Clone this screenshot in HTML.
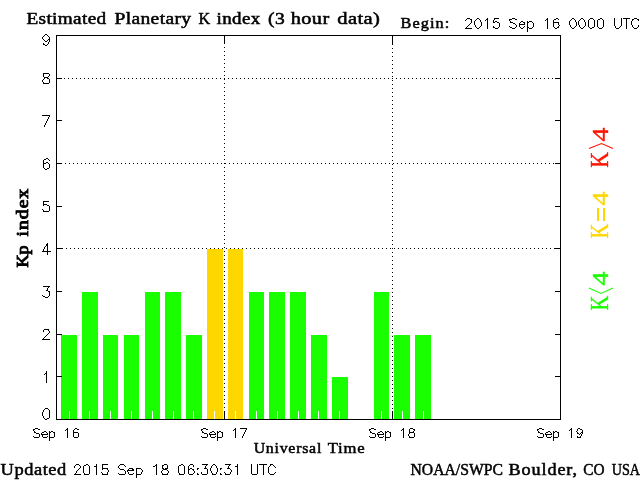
<!DOCTYPE html>
<html><head><meta charset="utf-8"><style>
html,body{margin:0;padding:0;background:#fff;width:640px;height:480px;overflow:hidden}
svg{display:block}
.sans{font-family:"Liberation Sans",sans-serif}
.serif{font-family:"Liberation Serif",serif}
</style></head><body>
<svg width="640" height="480" viewBox="0 0 640 480">
<rect x="0" y="0" width="640" height="480" fill="#fff"/>
<g shape-rendering="crispEdges">
<rect x="61" y="335" width="16" height="84" fill="#1aff00"/>
<rect x="69" y="411" width="1" height="8" fill="#fff"/>
<rect x="82" y="292" width="16" height="127" fill="#1aff00"/>
<rect x="89" y="411" width="1" height="8" fill="#fff"/>
<rect x="103" y="335" width="15" height="84" fill="#1aff00"/>
<rect x="110" y="411" width="1" height="8" fill="#fff"/>
<rect x="124" y="335" width="15" height="84" fill="#1aff00"/>
<rect x="131" y="411" width="1" height="8" fill="#fff"/>
<rect x="145" y="292" width="15" height="127" fill="#1aff00"/>
<rect x="152" y="411" width="1" height="8" fill="#fff"/>
<rect x="165" y="292" width="16" height="127" fill="#1aff00"/>
<rect x="173" y="411" width="1" height="8" fill="#fff"/>
<rect x="186" y="335" width="16" height="84" fill="#1aff00"/>
<rect x="193" y="411" width="1" height="8" fill="#fff"/>
<rect x="207" y="249" width="16" height="170" fill="#ffd700"/>
<rect x="214" y="411" width="1" height="8" fill="#fff"/>
<rect x="228" y="249" width="15" height="170" fill="#ffd700"/>
<rect x="235" y="411" width="1" height="8" fill="#fff"/>
<rect x="249" y="292" width="15" height="127" fill="#1aff00"/>
<rect x="256" y="411" width="1" height="8" fill="#fff"/>
<rect x="269" y="292" width="16" height="127" fill="#1aff00"/>
<rect x="277" y="411" width="1" height="8" fill="#fff"/>
<rect x="290" y="292" width="16" height="127" fill="#1aff00"/>
<rect x="298" y="411" width="1" height="8" fill="#fff"/>
<rect x="311" y="335" width="16" height="84" fill="#1aff00"/>
<rect x="318" y="411" width="1" height="8" fill="#fff"/>
<rect x="332" y="377" width="16" height="42" fill="#1aff00"/>
<rect x="339" y="411" width="1" height="8" fill="#fff"/>
<rect x="374" y="292" width="15" height="127" fill="#1aff00"/>
<rect x="381" y="411" width="1" height="8" fill="#fff"/>
<rect x="394" y="335" width="16" height="84" fill="#1aff00"/>
<rect x="402" y="411" width="1" height="8" fill="#fff"/>
<rect x="415" y="335" width="16" height="84" fill="#1aff00"/>
<rect x="423" y="411" width="1" height="8" fill="#fff"/>
<rect x="56" y="35" width="505" height="1" fill="#000"/>
<rect x="56" y="419" width="505" height="1" fill="#000"/>
<rect x="56" y="35" width="1" height="385" fill="#000"/>
<rect x="560" y="35" width="1" height="385" fill="#000"/>
<rect x="56" y="376" width="6" height="1" fill="#000"/>
<rect x="555" y="376" width="6" height="1" fill="#000"/>
<rect x="56" y="334" width="6" height="1" fill="#000"/>
<rect x="555" y="334" width="6" height="1" fill="#000"/>
<rect x="56" y="291" width="6" height="1" fill="#000"/>
<rect x="555" y="291" width="6" height="1" fill="#000"/>
<rect x="56" y="248" width="7" height="1" fill="#000"/>
<rect x="554" y="248" width="7" height="1" fill="#000"/>
<rect x="56" y="206" width="6" height="1" fill="#000"/>
<rect x="555" y="206" width="6" height="1" fill="#000"/>
<rect x="56" y="163" width="6" height="1" fill="#000"/>
<rect x="555" y="163" width="6" height="1" fill="#000"/>
<rect x="56" y="120" width="6" height="1" fill="#000"/>
<rect x="555" y="120" width="6" height="1" fill="#000"/>
<rect x="56" y="78" width="6" height="1" fill="#000"/>
<rect x="555" y="78" width="6" height="1" fill="#000"/>
<rect x="64" y="78" width="1" height="1" fill="#000"/>
<rect x="68" y="78" width="1" height="1" fill="#000"/>
<rect x="72" y="78" width="1" height="1" fill="#000"/>
<rect x="76" y="78" width="1" height="1" fill="#000"/>
<rect x="80" y="78" width="1" height="1" fill="#000"/>
<rect x="84" y="78" width="1" height="1" fill="#000"/>
<rect x="88" y="78" width="1" height="1" fill="#000"/>
<rect x="92" y="78" width="1" height="1" fill="#000"/>
<rect x="96" y="78" width="1" height="1" fill="#000"/>
<rect x="100" y="78" width="1" height="1" fill="#000"/>
<rect x="104" y="78" width="1" height="1" fill="#000"/>
<rect x="108" y="78" width="1" height="1" fill="#000"/>
<rect x="112" y="78" width="1" height="1" fill="#000"/>
<rect x="116" y="78" width="1" height="1" fill="#000"/>
<rect x="120" y="78" width="1" height="1" fill="#000"/>
<rect x="124" y="78" width="1" height="1" fill="#000"/>
<rect x="128" y="78" width="1" height="1" fill="#000"/>
<rect x="132" y="78" width="1" height="1" fill="#000"/>
<rect x="136" y="78" width="1" height="1" fill="#000"/>
<rect x="140" y="78" width="1" height="1" fill="#000"/>
<rect x="144" y="78" width="1" height="1" fill="#000"/>
<rect x="148" y="78" width="1" height="1" fill="#000"/>
<rect x="152" y="78" width="1" height="1" fill="#000"/>
<rect x="156" y="78" width="1" height="1" fill="#000"/>
<rect x="160" y="78" width="1" height="1" fill="#000"/>
<rect x="164" y="78" width="1" height="1" fill="#000"/>
<rect x="168" y="78" width="1" height="1" fill="#000"/>
<rect x="172" y="78" width="1" height="1" fill="#000"/>
<rect x="176" y="78" width="1" height="1" fill="#000"/>
<rect x="180" y="78" width="1" height="1" fill="#000"/>
<rect x="184" y="78" width="1" height="1" fill="#000"/>
<rect x="188" y="78" width="1" height="1" fill="#000"/>
<rect x="192" y="78" width="1" height="1" fill="#000"/>
<rect x="196" y="78" width="1" height="1" fill="#000"/>
<rect x="200" y="78" width="1" height="1" fill="#000"/>
<rect x="204" y="78" width="1" height="1" fill="#000"/>
<rect x="208" y="78" width="1" height="1" fill="#000"/>
<rect x="212" y="78" width="1" height="1" fill="#000"/>
<rect x="216" y="78" width="1" height="1" fill="#000"/>
<rect x="220" y="78" width="1" height="1" fill="#000"/>
<rect x="224" y="78" width="1" height="1" fill="#000"/>
<rect x="228" y="78" width="1" height="1" fill="#000"/>
<rect x="232" y="78" width="1" height="1" fill="#000"/>
<rect x="236" y="78" width="1" height="1" fill="#000"/>
<rect x="240" y="78" width="1" height="1" fill="#000"/>
<rect x="244" y="78" width="1" height="1" fill="#000"/>
<rect x="248" y="78" width="1" height="1" fill="#000"/>
<rect x="252" y="78" width="1" height="1" fill="#000"/>
<rect x="256" y="78" width="1" height="1" fill="#000"/>
<rect x="260" y="78" width="1" height="1" fill="#000"/>
<rect x="264" y="78" width="1" height="1" fill="#000"/>
<rect x="268" y="78" width="1" height="1" fill="#000"/>
<rect x="272" y="78" width="1" height="1" fill="#000"/>
<rect x="276" y="78" width="1" height="1" fill="#000"/>
<rect x="280" y="78" width="1" height="1" fill="#000"/>
<rect x="284" y="78" width="1" height="1" fill="#000"/>
<rect x="288" y="78" width="1" height="1" fill="#000"/>
<rect x="292" y="78" width="1" height="1" fill="#000"/>
<rect x="296" y="78" width="1" height="1" fill="#000"/>
<rect x="300" y="78" width="1" height="1" fill="#000"/>
<rect x="304" y="78" width="1" height="1" fill="#000"/>
<rect x="308" y="78" width="1" height="1" fill="#000"/>
<rect x="312" y="78" width="1" height="1" fill="#000"/>
<rect x="316" y="78" width="1" height="1" fill="#000"/>
<rect x="320" y="78" width="1" height="1" fill="#000"/>
<rect x="324" y="78" width="1" height="1" fill="#000"/>
<rect x="328" y="78" width="1" height="1" fill="#000"/>
<rect x="332" y="78" width="1" height="1" fill="#000"/>
<rect x="336" y="78" width="1" height="1" fill="#000"/>
<rect x="340" y="78" width="1" height="1" fill="#000"/>
<rect x="344" y="78" width="1" height="1" fill="#000"/>
<rect x="348" y="78" width="1" height="1" fill="#000"/>
<rect x="352" y="78" width="1" height="1" fill="#000"/>
<rect x="356" y="78" width="1" height="1" fill="#000"/>
<rect x="360" y="78" width="1" height="1" fill="#000"/>
<rect x="364" y="78" width="1" height="1" fill="#000"/>
<rect x="368" y="78" width="1" height="1" fill="#000"/>
<rect x="372" y="78" width="1" height="1" fill="#000"/>
<rect x="376" y="78" width="1" height="1" fill="#000"/>
<rect x="380" y="78" width="1" height="1" fill="#000"/>
<rect x="384" y="78" width="1" height="1" fill="#000"/>
<rect x="388" y="78" width="1" height="1" fill="#000"/>
<rect x="392" y="78" width="1" height="1" fill="#000"/>
<rect x="396" y="78" width="1" height="1" fill="#000"/>
<rect x="400" y="78" width="1" height="1" fill="#000"/>
<rect x="404" y="78" width="1" height="1" fill="#000"/>
<rect x="408" y="78" width="1" height="1" fill="#000"/>
<rect x="412" y="78" width="1" height="1" fill="#000"/>
<rect x="416" y="78" width="1" height="1" fill="#000"/>
<rect x="420" y="78" width="1" height="1" fill="#000"/>
<rect x="424" y="78" width="1" height="1" fill="#000"/>
<rect x="428" y="78" width="1" height="1" fill="#000"/>
<rect x="432" y="78" width="1" height="1" fill="#000"/>
<rect x="436" y="78" width="1" height="1" fill="#000"/>
<rect x="440" y="78" width="1" height="1" fill="#000"/>
<rect x="444" y="78" width="1" height="1" fill="#000"/>
<rect x="448" y="78" width="1" height="1" fill="#000"/>
<rect x="452" y="78" width="1" height="1" fill="#000"/>
<rect x="456" y="78" width="1" height="1" fill="#000"/>
<rect x="460" y="78" width="1" height="1" fill="#000"/>
<rect x="464" y="78" width="1" height="1" fill="#000"/>
<rect x="468" y="78" width="1" height="1" fill="#000"/>
<rect x="472" y="78" width="1" height="1" fill="#000"/>
<rect x="476" y="78" width="1" height="1" fill="#000"/>
<rect x="480" y="78" width="1" height="1" fill="#000"/>
<rect x="484" y="78" width="1" height="1" fill="#000"/>
<rect x="488" y="78" width="1" height="1" fill="#000"/>
<rect x="492" y="78" width="1" height="1" fill="#000"/>
<rect x="496" y="78" width="1" height="1" fill="#000"/>
<rect x="500" y="78" width="1" height="1" fill="#000"/>
<rect x="504" y="78" width="1" height="1" fill="#000"/>
<rect x="508" y="78" width="1" height="1" fill="#000"/>
<rect x="512" y="78" width="1" height="1" fill="#000"/>
<rect x="516" y="78" width="1" height="1" fill="#000"/>
<rect x="520" y="78" width="1" height="1" fill="#000"/>
<rect x="524" y="78" width="1" height="1" fill="#000"/>
<rect x="528" y="78" width="1" height="1" fill="#000"/>
<rect x="532" y="78" width="1" height="1" fill="#000"/>
<rect x="536" y="78" width="1" height="1" fill="#000"/>
<rect x="540" y="78" width="1" height="1" fill="#000"/>
<rect x="544" y="78" width="1" height="1" fill="#000"/>
<rect x="548" y="78" width="1" height="1" fill="#000"/>
<rect x="552" y="78" width="1" height="1" fill="#000"/>
<rect x="65" y="163" width="1" height="1" fill="#000"/>
<rect x="69" y="163" width="1" height="1" fill="#000"/>
<rect x="73" y="163" width="1" height="1" fill="#000"/>
<rect x="77" y="163" width="1" height="1" fill="#000"/>
<rect x="81" y="163" width="1" height="1" fill="#000"/>
<rect x="85" y="163" width="1" height="1" fill="#000"/>
<rect x="89" y="163" width="1" height="1" fill="#000"/>
<rect x="93" y="163" width="1" height="1" fill="#000"/>
<rect x="97" y="163" width="1" height="1" fill="#000"/>
<rect x="101" y="163" width="1" height="1" fill="#000"/>
<rect x="105" y="163" width="1" height="1" fill="#000"/>
<rect x="109" y="163" width="1" height="1" fill="#000"/>
<rect x="113" y="163" width="1" height="1" fill="#000"/>
<rect x="117" y="163" width="1" height="1" fill="#000"/>
<rect x="121" y="163" width="1" height="1" fill="#000"/>
<rect x="125" y="163" width="1" height="1" fill="#000"/>
<rect x="129" y="163" width="1" height="1" fill="#000"/>
<rect x="133" y="163" width="1" height="1" fill="#000"/>
<rect x="137" y="163" width="1" height="1" fill="#000"/>
<rect x="141" y="163" width="1" height="1" fill="#000"/>
<rect x="145" y="163" width="1" height="1" fill="#000"/>
<rect x="149" y="163" width="1" height="1" fill="#000"/>
<rect x="153" y="163" width="1" height="1" fill="#000"/>
<rect x="157" y="163" width="1" height="1" fill="#000"/>
<rect x="161" y="163" width="1" height="1" fill="#000"/>
<rect x="165" y="163" width="1" height="1" fill="#000"/>
<rect x="169" y="163" width="1" height="1" fill="#000"/>
<rect x="173" y="163" width="1" height="1" fill="#000"/>
<rect x="177" y="163" width="1" height="1" fill="#000"/>
<rect x="181" y="163" width="1" height="1" fill="#000"/>
<rect x="185" y="163" width="1" height="1" fill="#000"/>
<rect x="189" y="163" width="1" height="1" fill="#000"/>
<rect x="193" y="163" width="1" height="1" fill="#000"/>
<rect x="197" y="163" width="1" height="1" fill="#000"/>
<rect x="201" y="163" width="1" height="1" fill="#000"/>
<rect x="205" y="163" width="1" height="1" fill="#000"/>
<rect x="209" y="163" width="1" height="1" fill="#000"/>
<rect x="213" y="163" width="1" height="1" fill="#000"/>
<rect x="217" y="163" width="1" height="1" fill="#000"/>
<rect x="221" y="163" width="1" height="1" fill="#000"/>
<rect x="225" y="163" width="1" height="1" fill="#000"/>
<rect x="229" y="163" width="1" height="1" fill="#000"/>
<rect x="233" y="163" width="1" height="1" fill="#000"/>
<rect x="237" y="163" width="1" height="1" fill="#000"/>
<rect x="241" y="163" width="1" height="1" fill="#000"/>
<rect x="245" y="163" width="1" height="1" fill="#000"/>
<rect x="249" y="163" width="1" height="1" fill="#000"/>
<rect x="253" y="163" width="1" height="1" fill="#000"/>
<rect x="257" y="163" width="1" height="1" fill="#000"/>
<rect x="261" y="163" width="1" height="1" fill="#000"/>
<rect x="265" y="163" width="1" height="1" fill="#000"/>
<rect x="269" y="163" width="1" height="1" fill="#000"/>
<rect x="273" y="163" width="1" height="1" fill="#000"/>
<rect x="277" y="163" width="1" height="1" fill="#000"/>
<rect x="281" y="163" width="1" height="1" fill="#000"/>
<rect x="285" y="163" width="1" height="1" fill="#000"/>
<rect x="289" y="163" width="1" height="1" fill="#000"/>
<rect x="293" y="163" width="1" height="1" fill="#000"/>
<rect x="297" y="163" width="1" height="1" fill="#000"/>
<rect x="301" y="163" width="1" height="1" fill="#000"/>
<rect x="305" y="163" width="1" height="1" fill="#000"/>
<rect x="309" y="163" width="1" height="1" fill="#000"/>
<rect x="313" y="163" width="1" height="1" fill="#000"/>
<rect x="317" y="163" width="1" height="1" fill="#000"/>
<rect x="321" y="163" width="1" height="1" fill="#000"/>
<rect x="325" y="163" width="1" height="1" fill="#000"/>
<rect x="329" y="163" width="1" height="1" fill="#000"/>
<rect x="333" y="163" width="1" height="1" fill="#000"/>
<rect x="337" y="163" width="1" height="1" fill="#000"/>
<rect x="341" y="163" width="1" height="1" fill="#000"/>
<rect x="345" y="163" width="1" height="1" fill="#000"/>
<rect x="349" y="163" width="1" height="1" fill="#000"/>
<rect x="353" y="163" width="1" height="1" fill="#000"/>
<rect x="357" y="163" width="1" height="1" fill="#000"/>
<rect x="361" y="163" width="1" height="1" fill="#000"/>
<rect x="365" y="163" width="1" height="1" fill="#000"/>
<rect x="369" y="163" width="1" height="1" fill="#000"/>
<rect x="373" y="163" width="1" height="1" fill="#000"/>
<rect x="377" y="163" width="1" height="1" fill="#000"/>
<rect x="381" y="163" width="1" height="1" fill="#000"/>
<rect x="385" y="163" width="1" height="1" fill="#000"/>
<rect x="389" y="163" width="1" height="1" fill="#000"/>
<rect x="393" y="163" width="1" height="1" fill="#000"/>
<rect x="397" y="163" width="1" height="1" fill="#000"/>
<rect x="401" y="163" width="1" height="1" fill="#000"/>
<rect x="405" y="163" width="1" height="1" fill="#000"/>
<rect x="409" y="163" width="1" height="1" fill="#000"/>
<rect x="413" y="163" width="1" height="1" fill="#000"/>
<rect x="417" y="163" width="1" height="1" fill="#000"/>
<rect x="421" y="163" width="1" height="1" fill="#000"/>
<rect x="425" y="163" width="1" height="1" fill="#000"/>
<rect x="429" y="163" width="1" height="1" fill="#000"/>
<rect x="433" y="163" width="1" height="1" fill="#000"/>
<rect x="437" y="163" width="1" height="1" fill="#000"/>
<rect x="441" y="163" width="1" height="1" fill="#000"/>
<rect x="445" y="163" width="1" height="1" fill="#000"/>
<rect x="449" y="163" width="1" height="1" fill="#000"/>
<rect x="453" y="163" width="1" height="1" fill="#000"/>
<rect x="457" y="163" width="1" height="1" fill="#000"/>
<rect x="461" y="163" width="1" height="1" fill="#000"/>
<rect x="465" y="163" width="1" height="1" fill="#000"/>
<rect x="469" y="163" width="1" height="1" fill="#000"/>
<rect x="473" y="163" width="1" height="1" fill="#000"/>
<rect x="477" y="163" width="1" height="1" fill="#000"/>
<rect x="481" y="163" width="1" height="1" fill="#000"/>
<rect x="485" y="163" width="1" height="1" fill="#000"/>
<rect x="489" y="163" width="1" height="1" fill="#000"/>
<rect x="493" y="163" width="1" height="1" fill="#000"/>
<rect x="497" y="163" width="1" height="1" fill="#000"/>
<rect x="501" y="163" width="1" height="1" fill="#000"/>
<rect x="505" y="163" width="1" height="1" fill="#000"/>
<rect x="509" y="163" width="1" height="1" fill="#000"/>
<rect x="513" y="163" width="1" height="1" fill="#000"/>
<rect x="517" y="163" width="1" height="1" fill="#000"/>
<rect x="521" y="163" width="1" height="1" fill="#000"/>
<rect x="525" y="163" width="1" height="1" fill="#000"/>
<rect x="529" y="163" width="1" height="1" fill="#000"/>
<rect x="533" y="163" width="1" height="1" fill="#000"/>
<rect x="537" y="163" width="1" height="1" fill="#000"/>
<rect x="541" y="163" width="1" height="1" fill="#000"/>
<rect x="545" y="163" width="1" height="1" fill="#000"/>
<rect x="549" y="163" width="1" height="1" fill="#000"/>
<rect x="553" y="163" width="1" height="1" fill="#000"/>
<rect x="66" y="248" width="1" height="1" fill="#000"/>
<rect x="70" y="248" width="1" height="1" fill="#000"/>
<rect x="74" y="248" width="1" height="1" fill="#000"/>
<rect x="78" y="248" width="1" height="1" fill="#000"/>
<rect x="82" y="248" width="1" height="1" fill="#000"/>
<rect x="86" y="248" width="1" height="1" fill="#000"/>
<rect x="90" y="248" width="1" height="1" fill="#000"/>
<rect x="94" y="248" width="1" height="1" fill="#000"/>
<rect x="98" y="248" width="1" height="1" fill="#000"/>
<rect x="102" y="248" width="1" height="1" fill="#000"/>
<rect x="106" y="248" width="1" height="1" fill="#000"/>
<rect x="110" y="248" width="1" height="1" fill="#000"/>
<rect x="114" y="248" width="1" height="1" fill="#000"/>
<rect x="118" y="248" width="1" height="1" fill="#000"/>
<rect x="122" y="248" width="1" height="1" fill="#000"/>
<rect x="126" y="248" width="1" height="1" fill="#000"/>
<rect x="130" y="248" width="1" height="1" fill="#000"/>
<rect x="134" y="248" width="1" height="1" fill="#000"/>
<rect x="138" y="248" width="1" height="1" fill="#000"/>
<rect x="142" y="248" width="1" height="1" fill="#000"/>
<rect x="146" y="248" width="1" height="1" fill="#000"/>
<rect x="150" y="248" width="1" height="1" fill="#000"/>
<rect x="154" y="248" width="1" height="1" fill="#000"/>
<rect x="158" y="248" width="1" height="1" fill="#000"/>
<rect x="162" y="248" width="1" height="1" fill="#000"/>
<rect x="166" y="248" width="1" height="1" fill="#000"/>
<rect x="170" y="248" width="1" height="1" fill="#000"/>
<rect x="174" y="248" width="1" height="1" fill="#000"/>
<rect x="178" y="248" width="1" height="1" fill="#000"/>
<rect x="182" y="248" width="1" height="1" fill="#000"/>
<rect x="186" y="248" width="1" height="1" fill="#000"/>
<rect x="190" y="248" width="1" height="1" fill="#000"/>
<rect x="194" y="248" width="1" height="1" fill="#000"/>
<rect x="198" y="248" width="1" height="1" fill="#000"/>
<rect x="202" y="248" width="1" height="1" fill="#000"/>
<rect x="206" y="248" width="1" height="1" fill="#000"/>
<rect x="210" y="248" width="1" height="1" fill="#000"/>
<rect x="214" y="248" width="1" height="1" fill="#000"/>
<rect x="218" y="248" width="1" height="1" fill="#000"/>
<rect x="222" y="248" width="1" height="1" fill="#000"/>
<rect x="226" y="248" width="1" height="1" fill="#000"/>
<rect x="230" y="248" width="1" height="1" fill="#000"/>
<rect x="234" y="248" width="1" height="1" fill="#000"/>
<rect x="238" y="248" width="1" height="1" fill="#000"/>
<rect x="242" y="248" width="1" height="1" fill="#000"/>
<rect x="246" y="248" width="1" height="1" fill="#000"/>
<rect x="250" y="248" width="1" height="1" fill="#000"/>
<rect x="254" y="248" width="1" height="1" fill="#000"/>
<rect x="258" y="248" width="1" height="1" fill="#000"/>
<rect x="262" y="248" width="1" height="1" fill="#000"/>
<rect x="266" y="248" width="1" height="1" fill="#000"/>
<rect x="270" y="248" width="1" height="1" fill="#000"/>
<rect x="274" y="248" width="1" height="1" fill="#000"/>
<rect x="278" y="248" width="1" height="1" fill="#000"/>
<rect x="282" y="248" width="1" height="1" fill="#000"/>
<rect x="286" y="248" width="1" height="1" fill="#000"/>
<rect x="290" y="248" width="1" height="1" fill="#000"/>
<rect x="294" y="248" width="1" height="1" fill="#000"/>
<rect x="298" y="248" width="1" height="1" fill="#000"/>
<rect x="302" y="248" width="1" height="1" fill="#000"/>
<rect x="306" y="248" width="1" height="1" fill="#000"/>
<rect x="310" y="248" width="1" height="1" fill="#000"/>
<rect x="314" y="248" width="1" height="1" fill="#000"/>
<rect x="318" y="248" width="1" height="1" fill="#000"/>
<rect x="322" y="248" width="1" height="1" fill="#000"/>
<rect x="326" y="248" width="1" height="1" fill="#000"/>
<rect x="330" y="248" width="1" height="1" fill="#000"/>
<rect x="334" y="248" width="1" height="1" fill="#000"/>
<rect x="338" y="248" width="1" height="1" fill="#000"/>
<rect x="342" y="248" width="1" height="1" fill="#000"/>
<rect x="346" y="248" width="1" height="1" fill="#000"/>
<rect x="350" y="248" width="1" height="1" fill="#000"/>
<rect x="354" y="248" width="1" height="1" fill="#000"/>
<rect x="358" y="248" width="1" height="1" fill="#000"/>
<rect x="362" y="248" width="1" height="1" fill="#000"/>
<rect x="366" y="248" width="1" height="1" fill="#000"/>
<rect x="370" y="248" width="1" height="1" fill="#000"/>
<rect x="374" y="248" width="1" height="1" fill="#000"/>
<rect x="378" y="248" width="1" height="1" fill="#000"/>
<rect x="382" y="248" width="1" height="1" fill="#000"/>
<rect x="386" y="248" width="1" height="1" fill="#000"/>
<rect x="390" y="248" width="1" height="1" fill="#000"/>
<rect x="394" y="248" width="1" height="1" fill="#000"/>
<rect x="398" y="248" width="1" height="1" fill="#000"/>
<rect x="402" y="248" width="1" height="1" fill="#000"/>
<rect x="406" y="248" width="1" height="1" fill="#000"/>
<rect x="410" y="248" width="1" height="1" fill="#000"/>
<rect x="414" y="248" width="1" height="1" fill="#000"/>
<rect x="418" y="248" width="1" height="1" fill="#000"/>
<rect x="422" y="248" width="1" height="1" fill="#000"/>
<rect x="426" y="248" width="1" height="1" fill="#000"/>
<rect x="430" y="248" width="1" height="1" fill="#000"/>
<rect x="434" y="248" width="1" height="1" fill="#000"/>
<rect x="438" y="248" width="1" height="1" fill="#000"/>
<rect x="442" y="248" width="1" height="1" fill="#000"/>
<rect x="446" y="248" width="1" height="1" fill="#000"/>
<rect x="450" y="248" width="1" height="1" fill="#000"/>
<rect x="454" y="248" width="1" height="1" fill="#000"/>
<rect x="458" y="248" width="1" height="1" fill="#000"/>
<rect x="462" y="248" width="1" height="1" fill="#000"/>
<rect x="466" y="248" width="1" height="1" fill="#000"/>
<rect x="470" y="248" width="1" height="1" fill="#000"/>
<rect x="474" y="248" width="1" height="1" fill="#000"/>
<rect x="478" y="248" width="1" height="1" fill="#000"/>
<rect x="482" y="248" width="1" height="1" fill="#000"/>
<rect x="486" y="248" width="1" height="1" fill="#000"/>
<rect x="490" y="248" width="1" height="1" fill="#000"/>
<rect x="494" y="248" width="1" height="1" fill="#000"/>
<rect x="498" y="248" width="1" height="1" fill="#000"/>
<rect x="502" y="248" width="1" height="1" fill="#000"/>
<rect x="506" y="248" width="1" height="1" fill="#000"/>
<rect x="510" y="248" width="1" height="1" fill="#000"/>
<rect x="514" y="248" width="1" height="1" fill="#000"/>
<rect x="518" y="248" width="1" height="1" fill="#000"/>
<rect x="522" y="248" width="1" height="1" fill="#000"/>
<rect x="526" y="248" width="1" height="1" fill="#000"/>
<rect x="530" y="248" width="1" height="1" fill="#000"/>
<rect x="534" y="248" width="1" height="1" fill="#000"/>
<rect x="538" y="248" width="1" height="1" fill="#000"/>
<rect x="542" y="248" width="1" height="1" fill="#000"/>
<rect x="546" y="248" width="1" height="1" fill="#000"/>
<rect x="550" y="248" width="1" height="1" fill="#000"/>
<rect x="224" y="35" width="1" height="9" fill="#000"/>
<rect x="224" y="47" width="1" height="1" fill="#000"/>
<rect x="224" y="51" width="1" height="1" fill="#000"/>
<rect x="224" y="55" width="1" height="1" fill="#000"/>
<rect x="224" y="59" width="1" height="1" fill="#000"/>
<rect x="224" y="63" width="1" height="1" fill="#000"/>
<rect x="224" y="67" width="1" height="1" fill="#000"/>
<rect x="224" y="71" width="1" height="1" fill="#000"/>
<rect x="224" y="75" width="1" height="1" fill="#000"/>
<rect x="224" y="79" width="1" height="1" fill="#000"/>
<rect x="224" y="83" width="1" height="1" fill="#000"/>
<rect x="224" y="87" width="1" height="1" fill="#000"/>
<rect x="224" y="91" width="1" height="1" fill="#000"/>
<rect x="224" y="95" width="1" height="1" fill="#000"/>
<rect x="224" y="99" width="1" height="1" fill="#000"/>
<rect x="224" y="103" width="1" height="1" fill="#000"/>
<rect x="224" y="107" width="1" height="1" fill="#000"/>
<rect x="224" y="111" width="1" height="1" fill="#000"/>
<rect x="224" y="115" width="1" height="1" fill="#000"/>
<rect x="224" y="119" width="1" height="1" fill="#000"/>
<rect x="224" y="123" width="1" height="1" fill="#000"/>
<rect x="224" y="127" width="1" height="1" fill="#000"/>
<rect x="224" y="131" width="1" height="1" fill="#000"/>
<rect x="224" y="135" width="1" height="1" fill="#000"/>
<rect x="224" y="139" width="1" height="1" fill="#000"/>
<rect x="224" y="143" width="1" height="1" fill="#000"/>
<rect x="224" y="147" width="1" height="1" fill="#000"/>
<rect x="224" y="151" width="1" height="1" fill="#000"/>
<rect x="224" y="155" width="1" height="1" fill="#000"/>
<rect x="224" y="159" width="1" height="1" fill="#000"/>
<rect x="224" y="163" width="1" height="1" fill="#000"/>
<rect x="224" y="167" width="1" height="1" fill="#000"/>
<rect x="224" y="171" width="1" height="1" fill="#000"/>
<rect x="224" y="175" width="1" height="1" fill="#000"/>
<rect x="224" y="179" width="1" height="1" fill="#000"/>
<rect x="224" y="183" width="1" height="1" fill="#000"/>
<rect x="224" y="187" width="1" height="1" fill="#000"/>
<rect x="224" y="191" width="1" height="1" fill="#000"/>
<rect x="224" y="195" width="1" height="1" fill="#000"/>
<rect x="224" y="199" width="1" height="1" fill="#000"/>
<rect x="224" y="203" width="1" height="1" fill="#000"/>
<rect x="224" y="207" width="1" height="1" fill="#000"/>
<rect x="224" y="211" width="1" height="1" fill="#000"/>
<rect x="224" y="215" width="1" height="1" fill="#000"/>
<rect x="224" y="219" width="1" height="1" fill="#000"/>
<rect x="224" y="223" width="1" height="1" fill="#000"/>
<rect x="224" y="227" width="1" height="1" fill="#000"/>
<rect x="224" y="231" width="1" height="1" fill="#000"/>
<rect x="224" y="235" width="1" height="1" fill="#000"/>
<rect x="224" y="239" width="1" height="1" fill="#000"/>
<rect x="224" y="243" width="1" height="1" fill="#000"/>
<rect x="224" y="247" width="1" height="1" fill="#000"/>
<rect x="224" y="251" width="1" height="1" fill="#000"/>
<rect x="224" y="255" width="1" height="1" fill="#000"/>
<rect x="224" y="259" width="1" height="1" fill="#000"/>
<rect x="224" y="263" width="1" height="1" fill="#000"/>
<rect x="224" y="267" width="1" height="1" fill="#000"/>
<rect x="224" y="271" width="1" height="1" fill="#000"/>
<rect x="224" y="275" width="1" height="1" fill="#000"/>
<rect x="224" y="279" width="1" height="1" fill="#000"/>
<rect x="224" y="283" width="1" height="1" fill="#000"/>
<rect x="224" y="287" width="1" height="1" fill="#000"/>
<rect x="224" y="291" width="1" height="1" fill="#000"/>
<rect x="224" y="295" width="1" height="1" fill="#000"/>
<rect x="224" y="299" width="1" height="1" fill="#000"/>
<rect x="224" y="303" width="1" height="1" fill="#000"/>
<rect x="224" y="307" width="1" height="1" fill="#000"/>
<rect x="224" y="311" width="1" height="1" fill="#000"/>
<rect x="224" y="315" width="1" height="1" fill="#000"/>
<rect x="224" y="319" width="1" height="1" fill="#000"/>
<rect x="224" y="323" width="1" height="1" fill="#000"/>
<rect x="224" y="327" width="1" height="1" fill="#000"/>
<rect x="224" y="331" width="1" height="1" fill="#000"/>
<rect x="224" y="335" width="1" height="1" fill="#000"/>
<rect x="224" y="339" width="1" height="1" fill="#000"/>
<rect x="224" y="343" width="1" height="1" fill="#000"/>
<rect x="224" y="347" width="1" height="1" fill="#000"/>
<rect x="224" y="351" width="1" height="1" fill="#000"/>
<rect x="224" y="355" width="1" height="1" fill="#000"/>
<rect x="224" y="359" width="1" height="1" fill="#000"/>
<rect x="224" y="363" width="1" height="1" fill="#000"/>
<rect x="224" y="367" width="1" height="1" fill="#000"/>
<rect x="224" y="371" width="1" height="1" fill="#000"/>
<rect x="224" y="375" width="1" height="1" fill="#000"/>
<rect x="224" y="379" width="1" height="1" fill="#000"/>
<rect x="224" y="383" width="1" height="1" fill="#000"/>
<rect x="224" y="387" width="1" height="1" fill="#000"/>
<rect x="224" y="391" width="1" height="1" fill="#000"/>
<rect x="224" y="395" width="1" height="1" fill="#000"/>
<rect x="224" y="399" width="1" height="1" fill="#000"/>
<rect x="224" y="403" width="1" height="1" fill="#000"/>
<rect x="224" y="407" width="1" height="1" fill="#000"/>
<rect x="224" y="411" width="1" height="8" fill="#000"/>
<rect x="392" y="35" width="1" height="10" fill="#000"/>
<rect x="392" y="48" width="1" height="1" fill="#000"/>
<rect x="392" y="52" width="1" height="1" fill="#000"/>
<rect x="392" y="56" width="1" height="1" fill="#000"/>
<rect x="392" y="60" width="1" height="1" fill="#000"/>
<rect x="392" y="64" width="1" height="1" fill="#000"/>
<rect x="392" y="68" width="1" height="1" fill="#000"/>
<rect x="392" y="72" width="1" height="1" fill="#000"/>
<rect x="392" y="76" width="1" height="1" fill="#000"/>
<rect x="392" y="80" width="1" height="1" fill="#000"/>
<rect x="392" y="84" width="1" height="1" fill="#000"/>
<rect x="392" y="88" width="1" height="1" fill="#000"/>
<rect x="392" y="92" width="1" height="1" fill="#000"/>
<rect x="392" y="96" width="1" height="1" fill="#000"/>
<rect x="392" y="100" width="1" height="1" fill="#000"/>
<rect x="392" y="104" width="1" height="1" fill="#000"/>
<rect x="392" y="108" width="1" height="1" fill="#000"/>
<rect x="392" y="112" width="1" height="1" fill="#000"/>
<rect x="392" y="116" width="1" height="1" fill="#000"/>
<rect x="392" y="120" width="1" height="1" fill="#000"/>
<rect x="392" y="124" width="1" height="1" fill="#000"/>
<rect x="392" y="128" width="1" height="1" fill="#000"/>
<rect x="392" y="132" width="1" height="1" fill="#000"/>
<rect x="392" y="136" width="1" height="1" fill="#000"/>
<rect x="392" y="140" width="1" height="1" fill="#000"/>
<rect x="392" y="144" width="1" height="1" fill="#000"/>
<rect x="392" y="148" width="1" height="1" fill="#000"/>
<rect x="392" y="152" width="1" height="1" fill="#000"/>
<rect x="392" y="156" width="1" height="1" fill="#000"/>
<rect x="392" y="160" width="1" height="1" fill="#000"/>
<rect x="392" y="164" width="1" height="1" fill="#000"/>
<rect x="392" y="168" width="1" height="1" fill="#000"/>
<rect x="392" y="172" width="1" height="1" fill="#000"/>
<rect x="392" y="176" width="1" height="1" fill="#000"/>
<rect x="392" y="180" width="1" height="1" fill="#000"/>
<rect x="392" y="184" width="1" height="1" fill="#000"/>
<rect x="392" y="188" width="1" height="1" fill="#000"/>
<rect x="392" y="192" width="1" height="1" fill="#000"/>
<rect x="392" y="196" width="1" height="1" fill="#000"/>
<rect x="392" y="200" width="1" height="1" fill="#000"/>
<rect x="392" y="204" width="1" height="1" fill="#000"/>
<rect x="392" y="208" width="1" height="1" fill="#000"/>
<rect x="392" y="212" width="1" height="1" fill="#000"/>
<rect x="392" y="216" width="1" height="1" fill="#000"/>
<rect x="392" y="220" width="1" height="1" fill="#000"/>
<rect x="392" y="224" width="1" height="1" fill="#000"/>
<rect x="392" y="228" width="1" height="1" fill="#000"/>
<rect x="392" y="232" width="1" height="1" fill="#000"/>
<rect x="392" y="236" width="1" height="1" fill="#000"/>
<rect x="392" y="240" width="1" height="1" fill="#000"/>
<rect x="392" y="244" width="1" height="1" fill="#000"/>
<rect x="392" y="248" width="1" height="1" fill="#000"/>
<rect x="392" y="252" width="1" height="1" fill="#000"/>
<rect x="392" y="256" width="1" height="1" fill="#000"/>
<rect x="392" y="260" width="1" height="1" fill="#000"/>
<rect x="392" y="264" width="1" height="1" fill="#000"/>
<rect x="392" y="268" width="1" height="1" fill="#000"/>
<rect x="392" y="272" width="1" height="1" fill="#000"/>
<rect x="392" y="276" width="1" height="1" fill="#000"/>
<rect x="392" y="280" width="1" height="1" fill="#000"/>
<rect x="392" y="284" width="1" height="1" fill="#000"/>
<rect x="392" y="288" width="1" height="1" fill="#000"/>
<rect x="392" y="292" width="1" height="1" fill="#000"/>
<rect x="392" y="296" width="1" height="1" fill="#000"/>
<rect x="392" y="300" width="1" height="1" fill="#000"/>
<rect x="392" y="304" width="1" height="1" fill="#000"/>
<rect x="392" y="308" width="1" height="1" fill="#000"/>
<rect x="392" y="312" width="1" height="1" fill="#000"/>
<rect x="392" y="316" width="1" height="1" fill="#000"/>
<rect x="392" y="320" width="1" height="1" fill="#000"/>
<rect x="392" y="324" width="1" height="1" fill="#000"/>
<rect x="392" y="328" width="1" height="1" fill="#000"/>
<rect x="392" y="332" width="1" height="1" fill="#000"/>
<rect x="392" y="336" width="1" height="1" fill="#000"/>
<rect x="392" y="340" width="1" height="1" fill="#000"/>
<rect x="392" y="344" width="1" height="1" fill="#000"/>
<rect x="392" y="348" width="1" height="1" fill="#000"/>
<rect x="392" y="352" width="1" height="1" fill="#000"/>
<rect x="392" y="356" width="1" height="1" fill="#000"/>
<rect x="392" y="360" width="1" height="1" fill="#000"/>
<rect x="392" y="364" width="1" height="1" fill="#000"/>
<rect x="392" y="368" width="1" height="1" fill="#000"/>
<rect x="392" y="372" width="1" height="1" fill="#000"/>
<rect x="392" y="376" width="1" height="1" fill="#000"/>
<rect x="392" y="380" width="1" height="1" fill="#000"/>
<rect x="392" y="384" width="1" height="1" fill="#000"/>
<rect x="392" y="388" width="1" height="1" fill="#000"/>
<rect x="392" y="392" width="1" height="1" fill="#000"/>
<rect x="392" y="396" width="1" height="1" fill="#000"/>
<rect x="392" y="400" width="1" height="1" fill="#000"/>
<rect x="392" y="404" width="1" height="1" fill="#000"/>
<rect x="392" y="408" width="1" height="1" fill="#000"/>
<rect x="392" y="411" width="1" height="8" fill="#000"/>
</g>
<g style="filter:contrast(1.0001)">
<text transform="translate(608.2,167.63) rotate(-90)" font-size="24.8" class="serif" fill="#ff1400" textLength="15.86" lengthAdjust="spacingAndGlyphs"  stroke="#ff1400" stroke-width="0.4">K</text>
<text transform="translate(608,141.55) rotate(-90)" font-size="24" class="serif" fill="#ff1400" textLength="13.98" lengthAdjust="spacingAndGlyphs"  stroke="#ff1400" stroke-width="0.4">4</text>
<polyline points="589,148.5 601.5,143.5 613,148.5" fill="none" stroke="#ff1400" stroke-width="1.1"/>
<text transform="translate(608.2,238.59) rotate(-90)" font-size="24.8" class="serif" fill="#ffd700" textLength="14.8" lengthAdjust="spacingAndGlyphs"  stroke="#ffd700" stroke-width="0.4">K</text>
<text transform="translate(608,205.55) rotate(-90)" font-size="24" class="serif" fill="#ffd700" textLength="13.98" lengthAdjust="spacingAndGlyphs"  stroke="#ffd700" stroke-width="0.4">4</text>
<rect x="597" y="208" width="2" height="13" fill="#ffd700"/><rect x="603" y="208" width="2" height="13" fill="#ffd700"/>
<text transform="translate(608.2,310.59) rotate(-90)" font-size="24.8" class="serif" fill="#1aff00" textLength="14.8" lengthAdjust="spacingAndGlyphs"  stroke="#1aff00" stroke-width="0.4">K</text>
<text transform="translate(608,285.55) rotate(-90)" font-size="24" class="serif" fill="#1aff00" textLength="13.98" lengthAdjust="spacingAndGlyphs"  stroke="#1aff00" stroke-width="0.4">4</text>
<polyline points="589,288 601,293.5 613,288" fill="none" stroke="#1aff00" stroke-width="1.1"/>
</g>
<path d="M467 18h3v1h-3zM477 18h2v1h-2zM487 18h1v1h-1zM494 18h5v1h-5zM512 18h3v1h-3zM547 18h1v1h-1zM556 18h2v1h-2zM572 18h2v1h-2zM581 18h2v1h-2zM590 18h3v1h-3zM600 18h2v1h-2zM614 18h1v1h-1zM621 18h1v1h-1zM623 18h7v1h-7zM634 18h3v1h-3zM466 19h1v1h-1zM470 19h2v1h-2zM476 19h1v1h-1zM479 19h1v1h-1zM486 19h2v1h-2zM494 19h1v1h-1zM509 19h3v1h-3zM515 19h2v1h-2zM546 19h2v1h-2zM554 19h2v1h-2zM558 19h1v1h-1zM571 19h1v1h-1zM574 19h1v1h-1zM580 19h1v1h-1zM583 19h1v1h-1zM589 19h1v1h-1zM593 19h1v1h-1zM598 19h2v1h-2zM602 19h1v1h-1zM614 19h1v1h-1zM621 19h1v1h-1zM626 19h1v1h-1zM632 19h2v1h-2zM637 19h2v1h-2zM465 20h1v1h-1zM471 20h1v1h-1zM475 20h1v1h-1zM480 20h1v1h-1zM485 20h1v1h-1zM487 20h1v1h-1zM493 20h1v1h-1zM509 20h1v1h-1zM545 20h1v1h-1zM547 20h1v1h-1zM553 20h1v1h-1zM570 20h1v1h-1zM575 20h1v1h-1zM579 20h1v1h-1zM584 20h1v1h-1zM588 20h1v1h-1zM594 20h1v1h-1zM597 20h1v1h-1zM603 20h1v1h-1zM614 20h1v1h-1zM621 20h1v1h-1zM626 20h1v1h-1zM632 20h1v1h-1zM638 20h1v1h-1zM471 21h1v1h-1zM474 21h1v1h-1zM480 21h1v1h-1zM487 21h1v1h-1zM493 21h1v1h-1zM495 21h2v1h-2zM510 21h1v1h-1zM521 21h2v1h-2zM527 21h1v1h-1zM529 21h3v1h-3zM547 21h1v1h-1zM553 21h1v1h-1zM569 21h1v1h-1zM575 21h1v1h-1zM578 21h1v1h-1zM584 21h1v1h-1zM588 21h1v1h-1zM594 21h1v1h-1zM597 21h1v1h-1zM603 21h1v1h-1zM614 21h1v1h-1zM621 21h1v1h-1zM626 21h1v1h-1zM631 21h1v1h-1zM471 22h1v1h-1zM474 22h1v1h-1zM481 22h1v1h-1zM487 22h1v1h-1zM493 22h2v1h-2zM497 22h2v1h-2zM510 22h3v1h-3zM520 22h1v1h-1zM523 22h2v1h-2zM527 22h2v1h-2zM532 22h1v1h-1zM547 22h1v1h-1zM553 22h6v1h-6zM569 22h1v1h-1zM576 22h1v1h-1zM578 22h1v1h-1zM585 22h1v1h-1zM588 22h1v1h-1zM594 22h1v1h-1zM597 22h1v1h-1zM603 22h1v1h-1zM614 22h1v1h-1zM621 22h1v1h-1zM626 22h1v1h-1zM631 22h1v1h-1zM470 23h1v1h-1zM474 23h1v1h-1zM481 23h1v1h-1zM487 23h1v1h-1zM499 23h1v1h-1zM513 23h2v1h-2zM519 23h1v1h-1zM524 23h1v1h-1zM527 23h1v1h-1zM533 23h1v1h-1zM547 23h1v1h-1zM553 23h1v1h-1zM558 23h1v1h-1zM569 23h1v1h-1zM576 23h1v1h-1zM578 23h1v1h-1zM585 23h1v1h-1zM588 23h1v1h-1zM594 23h1v1h-1zM597 23h1v1h-1zM603 23h1v1h-1zM614 23h1v1h-1zM621 23h1v1h-1zM626 23h1v1h-1zM631 23h1v1h-1zM469 24h1v1h-1zM474 24h1v1h-1zM481 24h1v1h-1zM487 24h1v1h-1zM499 24h1v1h-1zM515 24h1v1h-1zM519 24h6v1h-6zM527 24h1v1h-1zM533 24h1v1h-1zM547 24h1v1h-1zM553 24h1v1h-1zM558 24h1v1h-1zM569 24h1v1h-1zM576 24h1v1h-1zM578 24h1v1h-1zM585 24h1v1h-1zM588 24h1v1h-1zM594 24h1v1h-1zM597 24h1v1h-1zM603 24h1v1h-1zM614 24h1v1h-1zM621 24h1v1h-1zM626 24h1v1h-1zM631 24h1v1h-1zM468 25h1v1h-1zM475 25h1v1h-1zM481 25h1v1h-1zM487 25h1v1h-1zM499 25h1v1h-1zM516 25h1v1h-1zM519 25h1v1h-1zM527 25h1v1h-1zM533 25h1v1h-1zM547 25h1v1h-1zM553 25h1v1h-1zM559 25h1v1h-1zM570 25h1v1h-1zM576 25h1v1h-1zM579 25h1v1h-1zM585 25h1v1h-1zM588 25h1v1h-1zM594 25h1v1h-1zM597 25h1v1h-1zM603 25h1v1h-1zM614 25h1v1h-1zM621 25h1v1h-1zM626 25h1v1h-1zM632 25h1v1h-1zM638 25h1v1h-1zM467 26h1v1h-1zM475 26h1v1h-1zM480 26h1v1h-1zM487 26h1v1h-1zM493 26h1v1h-1zM499 26h1v1h-1zM509 26h1v1h-1zM516 26h1v1h-1zM519 26h1v1h-1zM524 26h1v1h-1zM527 26h1v1h-1zM533 26h1v1h-1zM547 26h1v1h-1zM553 26h1v1h-1zM558 26h1v1h-1zM570 26h1v1h-1zM575 26h1v1h-1zM579 26h1v1h-1zM584 26h1v1h-1zM588 26h1v1h-1zM594 26h1v1h-1zM597 26h1v1h-1zM603 26h1v1h-1zM615 26h1v1h-1zM620 26h1v1h-1zM626 26h1v1h-1zM632 26h1v1h-1zM638 26h1v1h-1zM466 27h1v1h-1zM476 27h1v1h-1zM479 27h1v1h-1zM487 27h1v1h-1zM493 27h2v1h-2zM498 27h1v1h-1zM510 27h2v1h-2zM515 27h1v1h-1zM520 27h1v1h-1zM523 27h1v1h-1zM527 27h2v1h-2zM532 27h1v1h-1zM547 27h1v1h-1zM554 27h1v1h-1zM557 27h2v1h-2zM571 27h1v1h-1zM574 27h1v1h-1zM580 27h1v1h-1zM583 27h1v1h-1zM589 27h1v1h-1zM592 27h2v1h-2zM598 27h1v1h-1zM602 27h1v1h-1zM615 27h1v1h-1zM619 27h1v1h-1zM626 27h1v1h-1zM633 27h1v1h-1zM637 27h1v1h-1zM465 28h7v1h-7zM477 28h2v1h-2zM487 28h1v1h-1zM495 28h3v1h-3zM512 28h3v1h-3zM521 28h2v1h-2zM527 28h1v1h-1zM529 28h3v1h-3zM547 28h1v1h-1zM555 28h2v1h-2zM572 28h2v1h-2zM581 28h2v1h-2zM590 28h2v1h-2zM599 28h3v1h-3zM616 28h3v1h-3zM626 28h1v1h-1zM634 28h3v1h-3zM527 29h1v1h-1zM527 30h1v1h-1zM527 31h1v1h-1zM45 34h2v1h-2zM44 35h1v1h-1zM47 35h1v1h-1zM43 36h1v1h-1zM48 36h1v1h-1zM42 37h1v1h-1zM49 37h1v1h-1zM42 38h1v1h-1zM49 38h1v1h-1zM43 39h1v1h-1zM48 39h2v1h-2zM44 40h1v1h-1zM47 40h1v1h-1zM49 40h1v1h-1zM45 41h2v1h-2zM49 41h1v1h-1zM48 42h1v1h-1zM43 43h1v1h-1zM48 43h1v1h-1zM43 44h2v1h-2zM47 44h1v1h-1zM45 45h2v1h-2zM43 73h6v1h-6zM43 74h1v1h-1zM49 74h1v1h-1zM43 75h1v1h-1zM49 75h1v1h-1zM43 76h1v1h-1zM48 76h1v1h-1zM44 77h4v1h-4zM44 78h1v1h-1zM47 78h2v1h-2zM43 79h1v1h-1zM49 79h1v1h-1zM42 80h1v1h-1zM49 80h1v1h-1zM42 81h1v1h-1zM49 81h1v1h-1zM43 82h1v1h-1zM49 82h1v1h-1zM43 83h6v1h-6zM42 115h8v1h-8zM49 116h1v1h-1zM48 117h1v1h-1zM48 118h1v1h-1zM47 119h1v1h-1zM47 120h1v1h-1zM46 121h1v1h-1zM46 122h1v1h-1zM45 123h1v1h-1zM45 124h1v1h-1zM44 125h1v1h-1zM44 126h1v1h-1zM46 158h2v1h-2zM44 159h2v1h-2zM48 159h1v1h-1zM43 160h1v1h-1zM49 160h1v1h-1zM43 161h1v1h-1zM43 162h1v1h-1zM46 162h2v1h-2zM43 163h3v1h-3zM48 163h1v1h-1zM43 164h1v1h-1zM49 164h1v1h-1zM43 165h1v1h-1zM49 165h1v1h-1zM43 166h1v1h-1zM49 166h1v1h-1zM43 167h1v1h-1zM49 167h1v1h-1zM44 168h1v1h-1zM47 168h2v1h-2zM45 169h2v1h-2zM43 201h6v1h-6zM43 202h1v1h-1zM43 203h1v1h-1zM43 204h4v1h-4zM43 205h1v1h-1zM47 205h2v1h-2zM49 206h1v1h-1zM49 207h1v1h-1zM49 208h1v1h-1zM42 209h1v1h-1zM49 209h1v1h-1zM43 210h1v1h-1zM49 210h1v1h-1zM43 211h6v1h-6zM47 243h1v1h-1zM46 244h2v1h-2zM46 245h2v1h-2zM45 246h1v1h-1zM47 246h1v1h-1zM44 247h1v1h-1zM47 247h1v1h-1zM44 248h1v1h-1zM47 248h1v1h-1zM43 249h1v1h-1zM47 249h1v1h-1zM43 250h1v1h-1zM47 250h1v1h-1zM42 251h9v1h-9zM47 252h1v1h-1zM47 253h1v1h-1zM47 254h1v1h-1zM43 286h7v1h-7zM48 287h1v1h-1zM47 288h1v1h-1zM47 289h1v1h-1zM46 290h2v1h-2zM48 291h2v1h-2zM49 292h1v1h-1zM49 293h1v1h-1zM49 294h1v1h-1zM42 295h1v1h-1zM49 295h1v1h-1zM43 296h2v1h-2zM48 296h1v1h-1zM45 297h3v1h-3zM44 329h5v1h-5zM43 330h1v1h-1zM48 330h1v1h-1zM43 331h1v1h-1zM49 331h1v1h-1zM49 332h1v1h-1zM48 333h1v1h-1zM47 334h1v1h-1zM46 335h1v1h-1zM45 336h1v1h-1zM44 337h1v1h-1zM43 338h1v1h-1zM42 339h8v1h-8zM46 371h1v1h-1zM46 372h1v1h-1zM45 373h2v1h-2zM44 374h1v1h-1zM46 374h1v1h-1zM46 375h1v1h-1zM46 376h1v1h-1zM46 377h1v1h-1zM46 378h1v1h-1zM46 379h1v1h-1zM46 380h1v1h-1zM46 381h1v1h-1zM46 382h1v1h-1zM45 408h3v1h-3zM44 409h1v1h-1zM48 409h1v1h-1zM43 410h1v1h-1zM49 410h1v1h-1zM43 411h1v1h-1zM49 411h1v1h-1zM42 412h1v1h-1zM49 412h1v1h-1zM42 413h1v1h-1zM49 413h1v1h-1zM42 414h1v1h-1zM49 414h1v1h-1zM42 415h1v1h-1zM49 415h1v1h-1zM43 416h1v1h-1zM49 416h1v1h-1zM43 417h1v1h-1zM49 417h1v1h-1zM44 418h1v1h-1zM47 418h2v1h-2zM45 419h2v1h-2zM35 428h3v1h-3zM67 428h1v1h-1zM75 428h2v1h-2zM203 428h3v1h-3zM235 428h1v1h-1zM240 428h7v1h-7zM371 428h3v1h-3zM403 428h1v1h-1zM410 428h3v1h-3zM539 428h3v1h-3zM571 428h1v1h-1zM578 428h2v1h-2zM33 429h2v1h-2zM38 429h2v1h-2zM66 429h2v1h-2zM74 429h1v1h-1zM77 429h2v1h-2zM201 429h2v1h-2zM206 429h2v1h-2zM234 429h2v1h-2zM246 429h1v1h-1zM369 429h2v1h-2zM374 429h2v1h-2zM402 429h2v1h-2zM409 429h1v1h-1zM413 429h2v1h-2zM537 429h2v1h-2zM542 429h2v1h-2zM570 429h2v1h-2zM577 429h1v1h-1zM580 429h2v1h-2zM33 430h1v1h-1zM65 430h1v1h-1zM67 430h1v1h-1zM73 430h1v1h-1zM201 430h1v1h-1zM233 430h1v1h-1zM235 430h1v1h-1zM245 430h1v1h-1zM369 430h1v1h-1zM401 430h1v1h-1zM403 430h1v1h-1zM409 430h1v1h-1zM414 430h1v1h-1zM537 430h1v1h-1zM569 430h1v1h-1zM571 430h1v1h-1zM577 430h1v1h-1zM582 430h1v1h-1zM34 431h1v1h-1zM44 431h2v1h-2zM49 431h1v1h-1zM51 431h2v1h-2zM67 431h1v1h-1zM73 431h1v1h-1zM202 431h1v1h-1zM212 431h2v1h-2zM217 431h1v1h-1zM219 431h2v1h-2zM235 431h1v1h-1zM245 431h1v1h-1zM370 431h1v1h-1zM380 431h2v1h-2zM385 431h1v1h-1zM387 431h2v1h-2zM403 431h1v1h-1zM409 431h1v1h-1zM413 431h1v1h-1zM538 431h1v1h-1zM548 431h2v1h-2zM553 431h1v1h-1zM555 431h2v1h-2zM571 431h1v1h-1zM576 431h1v1h-1zM582 431h1v1h-1zM34 432h2v1h-2zM42 432h2v1h-2zM46 432h1v1h-1zM49 432h2v1h-2zM53 432h2v1h-2zM67 432h1v1h-1zM73 432h5v1h-5zM202 432h2v1h-2zM210 432h2v1h-2zM214 432h1v1h-1zM217 432h2v1h-2zM221 432h2v1h-2zM235 432h1v1h-1zM244 432h1v1h-1zM370 432h2v1h-2zM378 432h2v1h-2zM382 432h1v1h-1zM385 432h2v1h-2zM389 432h2v1h-2zM403 432h1v1h-1zM409 432h5v1h-5zM538 432h2v1h-2zM546 432h2v1h-2zM550 432h1v1h-1zM553 432h2v1h-2zM557 432h2v1h-2zM571 432h1v1h-1zM577 432h1v1h-1zM581 432h2v1h-2zM36 433h3v1h-3zM41 433h1v1h-1zM47 433h1v1h-1zM49 433h1v1h-1zM54 433h1v1h-1zM67 433h1v1h-1zM73 433h1v1h-1zM78 433h1v1h-1zM204 433h3v1h-3zM209 433h1v1h-1zM215 433h1v1h-1zM217 433h1v1h-1zM222 433h1v1h-1zM235 433h1v1h-1zM244 433h1v1h-1zM372 433h3v1h-3zM377 433h1v1h-1zM383 433h1v1h-1zM385 433h1v1h-1zM390 433h1v1h-1zM403 433h1v1h-1zM409 433h1v1h-1zM414 433h1v1h-1zM540 433h3v1h-3zM545 433h1v1h-1zM551 433h1v1h-1zM553 433h1v1h-1zM558 433h1v1h-1zM571 433h1v1h-1zM577 433h2v1h-2zM580 433h1v1h-1zM582 433h1v1h-1zM39 434h1v1h-1zM41 434h7v1h-7zM49 434h1v1h-1zM54 434h1v1h-1zM67 434h1v1h-1zM73 434h1v1h-1zM78 434h1v1h-1zM207 434h1v1h-1zM209 434h7v1h-7zM217 434h1v1h-1zM222 434h1v1h-1zM235 434h1v1h-1zM243 434h1v1h-1zM375 434h1v1h-1zM377 434h7v1h-7zM385 434h1v1h-1zM390 434h1v1h-1zM403 434h1v1h-1zM408 434h1v1h-1zM414 434h1v1h-1zM543 434h1v1h-1zM545 434h7v1h-7zM553 434h1v1h-1zM558 434h1v1h-1zM571 434h1v1h-1zM579 434h1v1h-1zM581 434h1v1h-1zM39 435h1v1h-1zM42 435h1v1h-1zM49 435h1v1h-1zM54 435h1v1h-1zM67 435h1v1h-1zM73 435h1v1h-1zM78 435h1v1h-1zM207 435h1v1h-1zM210 435h1v1h-1zM217 435h1v1h-1zM222 435h1v1h-1zM235 435h1v1h-1zM243 435h1v1h-1zM375 435h1v1h-1zM378 435h1v1h-1zM385 435h1v1h-1zM390 435h1v1h-1zM403 435h1v1h-1zM408 435h1v1h-1zM414 435h1v1h-1zM543 435h1v1h-1zM546 435h1v1h-1zM553 435h1v1h-1zM558 435h1v1h-1zM571 435h1v1h-1zM581 435h1v1h-1zM33 436h1v1h-1zM39 436h1v1h-1zM42 436h1v1h-1zM47 436h1v1h-1zM49 436h1v1h-1zM54 436h1v1h-1zM67 436h1v1h-1zM73 436h1v1h-1zM78 436h1v1h-1zM201 436h1v1h-1zM207 436h1v1h-1zM210 436h1v1h-1zM215 436h1v1h-1zM217 436h1v1h-1zM222 436h1v1h-1zM235 436h1v1h-1zM242 436h1v1h-1zM369 436h1v1h-1zM375 436h1v1h-1zM378 436h1v1h-1zM383 436h1v1h-1zM385 436h1v1h-1zM390 436h1v1h-1zM403 436h1v1h-1zM409 436h1v1h-1zM414 436h1v1h-1zM537 436h1v1h-1zM543 436h1v1h-1zM546 436h1v1h-1zM551 436h1v1h-1zM553 436h1v1h-1zM558 436h1v1h-1zM571 436h1v1h-1zM577 436h1v1h-1zM580 436h1v1h-1zM34 437h5v1h-5zM43 437h4v1h-4zM49 437h5v1h-5zM67 437h1v1h-1zM74 437h4v1h-4zM202 437h5v1h-5zM211 437h4v1h-4zM217 437h5v1h-5zM235 437h1v1h-1zM242 437h1v1h-1zM370 437h5v1h-5zM379 437h4v1h-4zM385 437h5v1h-5zM403 437h1v1h-1zM409 437h5v1h-5zM538 437h5v1h-5zM547 437h4v1h-4zM553 437h5v1h-5zM571 437h1v1h-1zM577 437h4v1h-4zM49 438h1v1h-1zM217 438h1v1h-1zM385 438h1v1h-1zM553 438h1v1h-1zM49 439h1v1h-1zM217 439h1v1h-1zM385 439h1v1h-1zM553 439h1v1h-1zM49 440h1v1h-1zM217 440h1v1h-1zM385 440h1v1h-1zM553 440h1v1h-1zM76 464h3v1h-3zM86 464h2v1h-2zM96 464h1v1h-1zM102 464h6v1h-6zM120 464h4v1h-4zM156 464h1v1h-1zM164 464h3v1h-3zM181 464h2v1h-2zM190 464h3v1h-3zM202 464h6v1h-6zM213 464h2v1h-2zM225 464h6v1h-6zM237 464h1v1h-1zM251 464h1v1h-1zM257 464h1v1h-1zM259 464h8v1h-8zM270 464h3v1h-3zM75 465h1v1h-1zM79 465h1v1h-1zM84 465h2v1h-2zM88 465h1v1h-1zM96 465h1v1h-1zM102 465h1v1h-1zM119 465h1v1h-1zM124 465h1v1h-1zM155 465h2v1h-2zM162 465h2v1h-2zM167 465h1v1h-1zM179 465h2v1h-2zM183 465h1v1h-1zM189 465h1v1h-1zM193 465h1v1h-1zM206 465h1v1h-1zM212 465h1v1h-1zM215 465h1v1h-1zM229 465h1v1h-1zM237 465h1v1h-1zM251 465h1v1h-1zM257 465h1v1h-1zM263 465h1v1h-1zM270 465h1v1h-1zM273 465h1v1h-1zM74 466h1v1h-1zM80 466h1v1h-1zM83 466h1v1h-1zM89 466h1v1h-1zM94 466h3v1h-3zM102 466h1v1h-1zM118 466h1v1h-1zM125 466h1v1h-1zM153 466h2v1h-2zM156 466h1v1h-1zM162 466h1v1h-1zM167 466h1v1h-1zM178 466h1v1h-1zM184 466h1v1h-1zM188 466h1v1h-1zM193 466h1v1h-1zM205 466h1v1h-1zM211 466h1v1h-1zM216 466h1v1h-1zM228 466h1v1h-1zM235 466h3v1h-3zM251 466h1v1h-1zM257 466h1v1h-1zM263 466h1v1h-1zM269 466h1v1h-1zM274 466h1v1h-1zM74 467h1v1h-1zM80 467h1v1h-1zM83 467h1v1h-1zM89 467h1v1h-1zM96 467h1v1h-1zM102 467h1v1h-1zM118 467h1v1h-1zM156 467h1v1h-1zM162 467h1v1h-1zM167 467h1v1h-1zM178 467h1v1h-1zM184 467h1v1h-1zM188 467h1v1h-1zM205 467h1v1h-1zM211 467h1v1h-1zM216 467h1v1h-1zM228 467h1v1h-1zM237 467h1v1h-1zM251 467h1v1h-1zM257 467h1v1h-1zM263 467h1v1h-1zM268 467h1v1h-1zM275 467h1v1h-1zM79 468h1v1h-1zM83 468h1v1h-1zM89 468h1v1h-1zM96 468h1v1h-1zM102 468h6v1h-6zM119 468h1v1h-1zM129 468h4v1h-4zM136 468h5v1h-5zM156 468h1v1h-1zM162 468h2v1h-2zM165 468h3v1h-3zM178 468h1v1h-1zM184 468h1v1h-1zM188 468h1v1h-1zM190 468h2v1h-2zM197 468h2v1h-2zM204 468h3v1h-3zM210 468h1v1h-1zM217 468h1v1h-1zM220 468h2v1h-2zM227 468h3v1h-3zM237 468h1v1h-1zM251 468h1v1h-1zM257 468h1v1h-1zM263 468h1v1h-1zM268 468h1v1h-1zM78 469h1v1h-1zM83 469h1v1h-1zM89 469h1v1h-1zM96 469h1v1h-1zM102 469h1v1h-1zM107 469h1v1h-1zM120 469h4v1h-4zM128 469h1v1h-1zM132 469h2v1h-2zM136 469h1v1h-1zM141 469h1v1h-1zM156 469h1v1h-1zM163 469h4v1h-4zM178 469h1v1h-1zM184 469h1v1h-1zM188 469h2v1h-2zM192 469h2v1h-2zM197 469h1v1h-1zM207 469h1v1h-1zM210 469h1v1h-1zM217 469h1v1h-1zM220 469h1v1h-1zM230 469h1v1h-1zM237 469h1v1h-1zM251 469h1v1h-1zM257 469h1v1h-1zM263 469h1v1h-1zM268 469h1v1h-1zM77 470h1v1h-1zM83 470h1v1h-1zM89 470h1v1h-1zM96 470h1v1h-1zM108 470h1v1h-1zM124 470h1v1h-1zM127 470h7v1h-7zM136 470h1v1h-1zM142 470h1v1h-1zM156 470h1v1h-1zM162 470h1v1h-1zM167 470h1v1h-1zM178 470h1v1h-1zM184 470h1v1h-1zM188 470h1v1h-1zM193 470h1v1h-1zM207 470h1v1h-1zM210 470h1v1h-1zM217 470h1v1h-1zM231 470h1v1h-1zM237 470h1v1h-1zM251 470h1v1h-1zM257 470h1v1h-1zM263 470h1v1h-1zM268 470h1v1h-1zM76 471h1v1h-1zM83 471h1v1h-1zM89 471h1v1h-1zM96 471h1v1h-1zM108 471h1v1h-1zM125 471h1v1h-1zM127 471h1v1h-1zM136 471h1v1h-1zM142 471h1v1h-1zM156 471h1v1h-1zM161 471h1v1h-1zM168 471h1v1h-1zM178 471h1v1h-1zM184 471h1v1h-1zM188 471h1v1h-1zM194 471h1v1h-1zM207 471h1v1h-1zM211 471h1v1h-1zM217 471h1v1h-1zM231 471h1v1h-1zM237 471h1v1h-1zM251 471h1v1h-1zM257 471h1v1h-1zM263 471h1v1h-1zM268 471h1v1h-1zM76 472h1v1h-1zM83 472h1v1h-1zM89 472h1v1h-1zM96 472h1v1h-1zM101 472h1v1h-1zM107 472h1v1h-1zM125 472h1v1h-1zM128 472h1v1h-1zM136 472h1v1h-1zM141 472h1v1h-1zM156 472h1v1h-1zM161 472h1v1h-1zM168 472h1v1h-1zM178 472h1v1h-1zM184 472h1v1h-1zM188 472h1v1h-1zM194 472h1v1h-1zM201 472h1v1h-1zM207 472h1v1h-1zM211 472h1v1h-1zM216 472h1v1h-1zM224 472h1v1h-1zM230 472h1v1h-1zM237 472h1v1h-1zM251 472h1v1h-1zM257 472h1v1h-1zM263 472h1v1h-1zM268 472h1v1h-1zM275 472h1v1h-1zM75 473h1v1h-1zM84 473h1v1h-1zM89 473h1v1h-1zM96 473h1v1h-1zM102 473h1v1h-1zM107 473h1v1h-1zM118 473h1v1h-1zM125 473h1v1h-1zM128 473h1v1h-1zM133 473h1v1h-1zM136 473h1v1h-1zM141 473h1v1h-1zM156 473h1v1h-1zM162 473h1v1h-1zM167 473h1v1h-1zM179 473h1v1h-1zM184 473h1v1h-1zM188 473h1v1h-1zM193 473h1v1h-1zM197 473h1v1h-1zM201 473h1v1h-1zM207 473h1v1h-1zM212 473h1v1h-1zM216 473h1v1h-1zM220 473h1v1h-1zM225 473h1v1h-1zM230 473h1v1h-1zM237 473h1v1h-1zM251 473h1v1h-1zM257 473h1v1h-1zM263 473h1v1h-1zM269 473h1v1h-1zM274 473h1v1h-1zM74 474h7v1h-7zM84 474h5v1h-5zM96 474h1v1h-1zM102 474h6v1h-6zM119 474h6v1h-6zM129 474h4v1h-4zM136 474h5v1h-5zM156 474h1v1h-1zM162 474h6v1h-6zM179 474h5v1h-5zM189 474h4v1h-4zM197 474h2v1h-2zM202 474h5v1h-5zM212 474h4v1h-4zM220 474h2v1h-2zM225 474h5v1h-5zM237 474h1v1h-1zM252 474h5v1h-5zM263 474h1v1h-1zM270 474h4v1h-4zM136 475h1v1h-1zM136 476h1v1h-1zM136 477h1v1h-1z" fill="#000" shape-rendering="crispEdges"/>
<g style="filter:grayscale(1)">
<text x="26.45" y="24" font-size="16.0" class="serif" textLength="80.15" lengthAdjust="spacingAndGlyphs" letter-spacing="0.3" stroke="#000" stroke-width="0.5">Estimated</text>
<text x="114.44" y="24" font-size="16.0" class="serif" textLength="77.0" lengthAdjust="spacingAndGlyphs" letter-spacing="0.3" stroke="#000" stroke-width="0.5">Planetary</text>
<text x="198.54" y="24" font-size="16.0" class="serif" textLength="11.93" lengthAdjust="spacingAndGlyphs" letter-spacing="0.3" stroke="#000" stroke-width="0.5">K</text>
<text x="216.6" y="24" font-size="16.0" class="serif" textLength="43.99" lengthAdjust="spacingAndGlyphs" letter-spacing="0.3" stroke="#000" stroke-width="0.5">index</text>
<text x="268.14" y="24" font-size="16.0" class="serif" textLength="16.99" lengthAdjust="spacingAndGlyphs" letter-spacing="0.3" stroke="#000" stroke-width="0.5">(3</text>
<text x="290.8" y="24" font-size="16.0" class="serif" textLength="38.76" lengthAdjust="spacingAndGlyphs" letter-spacing="0.3" stroke="#000" stroke-width="0.5">hour</text>
<text x="337.26" y="24" font-size="16.0" class="serif" textLength="43.03" lengthAdjust="spacingAndGlyphs" letter-spacing="0.3" stroke="#000" stroke-width="0.5">data)</text>
<text x="400.53" y="28" font-size="15" class="serif" textLength="49.87" lengthAdjust="spacingAndGlyphs" letter-spacing="1.0" stroke="#000" stroke-width="0.5">Begin:</text>
<text x="253.67" y="453" font-size="15" class="serif" textLength="68.39" lengthAdjust="spacingAndGlyphs" letter-spacing="0.7" stroke="#000" stroke-width="0.5">Universal</text>
<text x="327.7" y="453" font-size="15" class="serif" textLength="37.63" lengthAdjust="spacingAndGlyphs" letter-spacing="0.7" stroke="#000" stroke-width="0.5">Time</text>
<text x="0.61" y="475" font-size="17" class="serif" textLength="66.15" lengthAdjust="spacingAndGlyphs" letter-spacing="0.5" stroke="#000" stroke-width="0.5">Updated</text>
<text x="410.55" y="475" font-size="16" class="serif" textLength="92.32" lengthAdjust="spacingAndGlyphs"  stroke="#000" stroke-width="0.5">NOAA/SWPC</text>
<text x="508.48" y="475" font-size="16" class="serif" textLength="69.55" lengthAdjust="spacingAndGlyphs" letter-spacing="0.8" stroke="#000" stroke-width="0.5">Boulder,</text>
<text x="583.37" y="475" font-size="16" class="serif" textLength="21.26" lengthAdjust="spacingAndGlyphs"  stroke="#000" stroke-width="0.5">CO</text>
<text x="611.7" y="475" font-size="16" class="serif" textLength="28.4" lengthAdjust="spacingAndGlyphs"  stroke="#000" stroke-width="0.5">USA</text>
<text transform="translate(28,267.52) rotate(-90)" font-size="17" class="serif" textLength="22.23" lengthAdjust="spacingAndGlyphs"  stroke="#000" stroke-width="0.9">Kp</text>
<text transform="translate(28,236.42) rotate(-90)" font-size="17" class="serif" textLength="48.59" lengthAdjust="spacingAndGlyphs" letter-spacing="0.8" stroke="#000" stroke-width="0.9">index</text>
</g>
</svg>
</body></html>
